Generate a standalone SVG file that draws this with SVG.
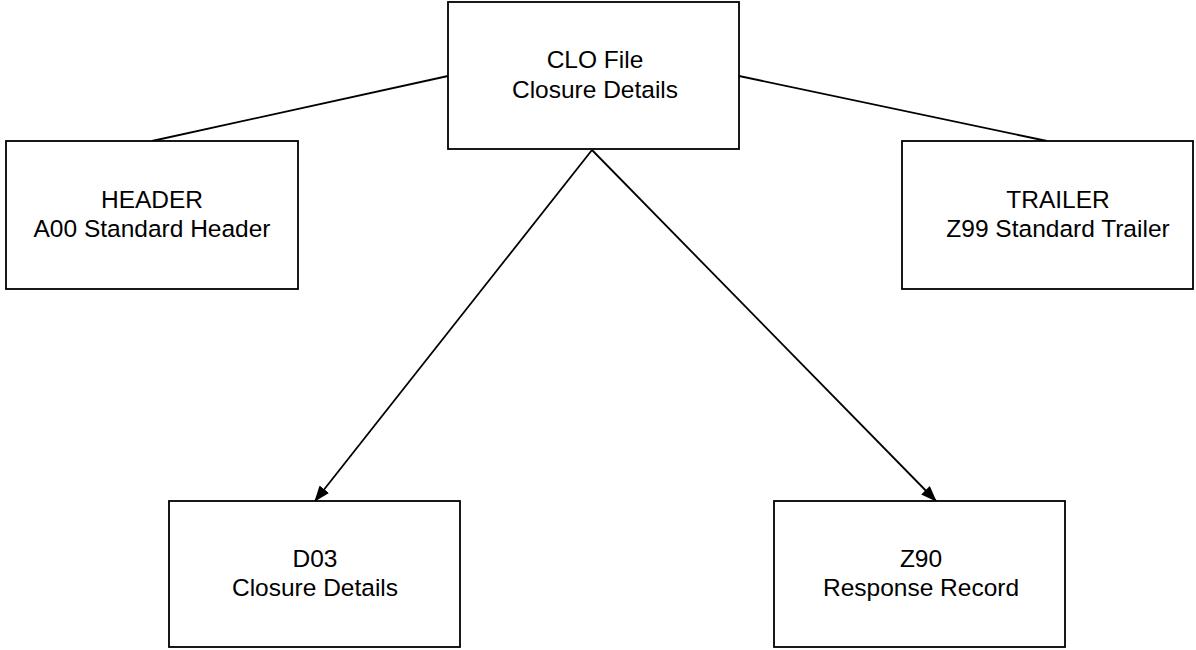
<svg xmlns="http://www.w3.org/2000/svg" width="1196" height="650" viewBox="0 0 1196 650">
<style>
.box{fill:#fff;stroke:#000;stroke-width:1.8}
.lbl{font-family:"Liberation Sans",Arial,sans-serif;font-size:24.5px;fill:#000;text-anchor:middle}
.con{stroke:#000;stroke-width:1.8;fill:none}
</style>
<defs>
<marker id="arr" markerWidth="16" markerHeight="12" refX="15" refY="6" orient="auto" markerUnits="userSpaceOnUse">
<path d="M0,0 L16,6 L0,12 Z" fill="#000"/>
</marker>
</defs>
<rect width="1196" height="650" fill="#fff"/>
<g id="connectors">
<line class="con" x1="152" y1="141" x2="448" y2="76"/>
<line class="con" x1="1047" y1="141" x2="739" y2="76"/>
<line class="con" x1="592" y1="150" x2="315" y2="501" marker-end="url(#arr)"/>
<line class="con" x1="592" y1="150" x2="936" y2="501" marker-end="url(#arr)"/>
</g>
<g id="clo">
<rect class="box" x="448" y="2" width="291" height="147"/>
<text class="lbl" x="595" y="68">CLO File</text>
<text class="lbl" x="595" y="98">Closure Details</text>
</g>
<g id="header">
<rect class="box" x="6" y="141" width="292" height="148"/>
<text class="lbl" x="152" y="208">HEADER</text>
<text class="lbl" x="152" y="237">A00 Standard Header</text>
</g>
<g id="trailer">
<rect class="box" x="902" y="141" width="291" height="148"/>
<text class="lbl" x="1058" y="208">TRAILER</text>
<text class="lbl" x="1058" y="237">Z99 Standard Trailer</text>
</g>
<g id="d03">
<rect class="box" x="169" y="501" width="291" height="146"/>
<text class="lbl" x="315" y="567">D03</text>
<text class="lbl" x="315" y="596">Closure Details</text>
</g>
<g id="z90">
<rect class="box" x="774" y="501" width="291" height="146"/>
<text class="lbl" x="921" y="567">Z90</text>
<text class="lbl" x="921" y="596">Response Record</text>
</g>
</svg>
